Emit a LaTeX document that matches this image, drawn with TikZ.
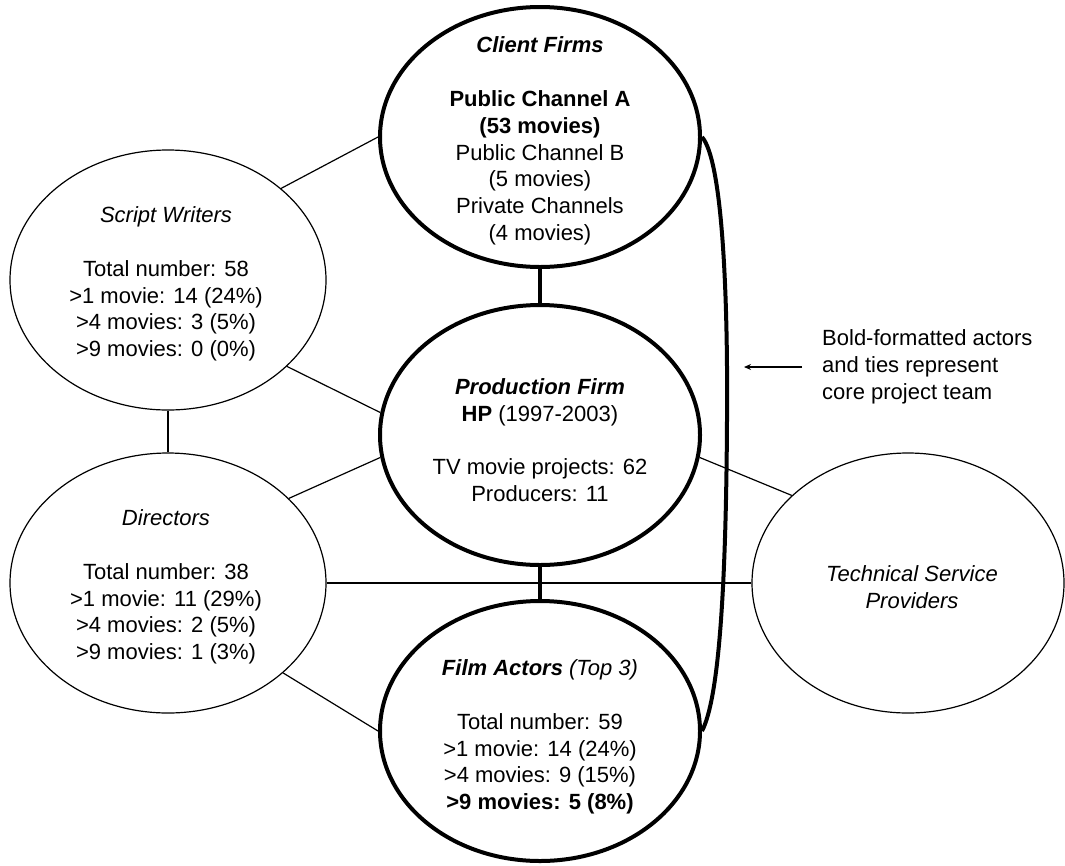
\documentclass[tikz,border=0pt]{standalone}
\usepackage{fontspec}
\setmainfont{Liberation Sans}
\usetikzlibrary{shapes.geometric,arrows.meta}
\tikzset{
  bigell/.style={ellipse, draw, line width=4pt, inner sep=0pt, minimum width=320pt, minimum height=260pt},
  smallell/.style={ellipse, draw, line width=1.2pt, inner sep=0pt, minimum width=316pt, minimum height=260pt},
  txt/.style={align=center, inner sep=0pt, font=\fontsize{22}{26.8}\selectfont},
  thinlink/.style={line width=1.2pt},
  thicklink/.style={line width=4pt},
}
\begin{document}
\begin{tikzpicture}[x=1pt,y=-1pt]
\useasboundingbox (0,0) rectangle (1065,865);
\fill[white] (0,0) rectangle (1065,865);
% ellipses
\node[bigell] (client) at (540,137) {};
\node[bigell] (prod) at (540,435) {};
\node[bigell] (film) at (540,731) {};
\node[smallell] (sw) at (168,280) {};
\node[smallell] (dir) at (168,583) {};
\node[smallell, minimum width=312pt] (tech) at (908,583) {};
% texts
\node[txt] (clientT) at (540,141) {\textbf{\textit{Client Firms}}\\[26.8pt]\textbf{Public Channel A}\\\textbf{(53 movies)}\\Public Channel B\\(5 movies)\\Private Channels\\(4 movies)};
\node[txt] (prodT) at (540,440) {\textbf{\textit{Production Firm}}\\\textbf{HP} (1997-2003)\\[26.8pt]TV movie projects: 62\\Producers: 11};
\node[txt] (filmT) at (540,737) {\textbf{\textit{Film Actors}} \textit{(Top 3)}\\[26.8pt]Total number: 59\\>1 movie: 14 (24\%)\\>4 movies: 9 (15\%)\\\textbf{>9 movies: 5 (8\%)}};
\node[txt] (swT) at (166,284) {\textit{Script Writers}\\[26.8pt]Total number: 58\\>1 movie: 14 (24\%)\\>4 movies: 3 (5\%)\\>9 movies: 0 (0\%)};
\node[txt] (dirT) at (166,587) {\textit{Directors}\\[26.8pt]Total number: 38\\>1 movie: 11 (29\%)\\>4 movies: 2 (5\%)\\>9 movies: 1 (3\%)};
\node[txt] (techT) at (912,587) {\textit{Technical Service}\\\textit{Providers}};
\node[txt, align=left, anchor=west] (legend) at (822,367) {Bold-formatted actors\\and ties represent\\core project team};
% thin ties
\draw[thinlink] (sw.39) -- (client.west);
\draw[thinlink] (sw.-36) -- (prod.172);
\draw[thinlink] (sw.south) -- (dir.north);
\draw[thinlink] (dir.35.5) -- (prod.188);
\draw[thinlink] (dir.-38.5) -- (film.west);
\draw[thinlink] (dir.east) -- (tech.west);
\draw[thinlink] (prod.-8) -- (tech.143.5);
% thick ties
\draw[thicklink] (client.south) -- (prod.north);
\draw[thicklink] (prod.south) -- (film.north);
\draw[thicklink] (client.east) .. controls (722,160) and (728,290) .. (727,420)
  .. controls (726,600) and (718,700) .. (film.east);
% legend arrow
\coordinate (arrS) at (802,367);
\coordinate (arrE) at (744,367);
\draw[line width=1.2pt, -{Stealth[length=7pt,width=6pt]}] (arrS) -- (arrE);
\end{tikzpicture}
\end{document}
